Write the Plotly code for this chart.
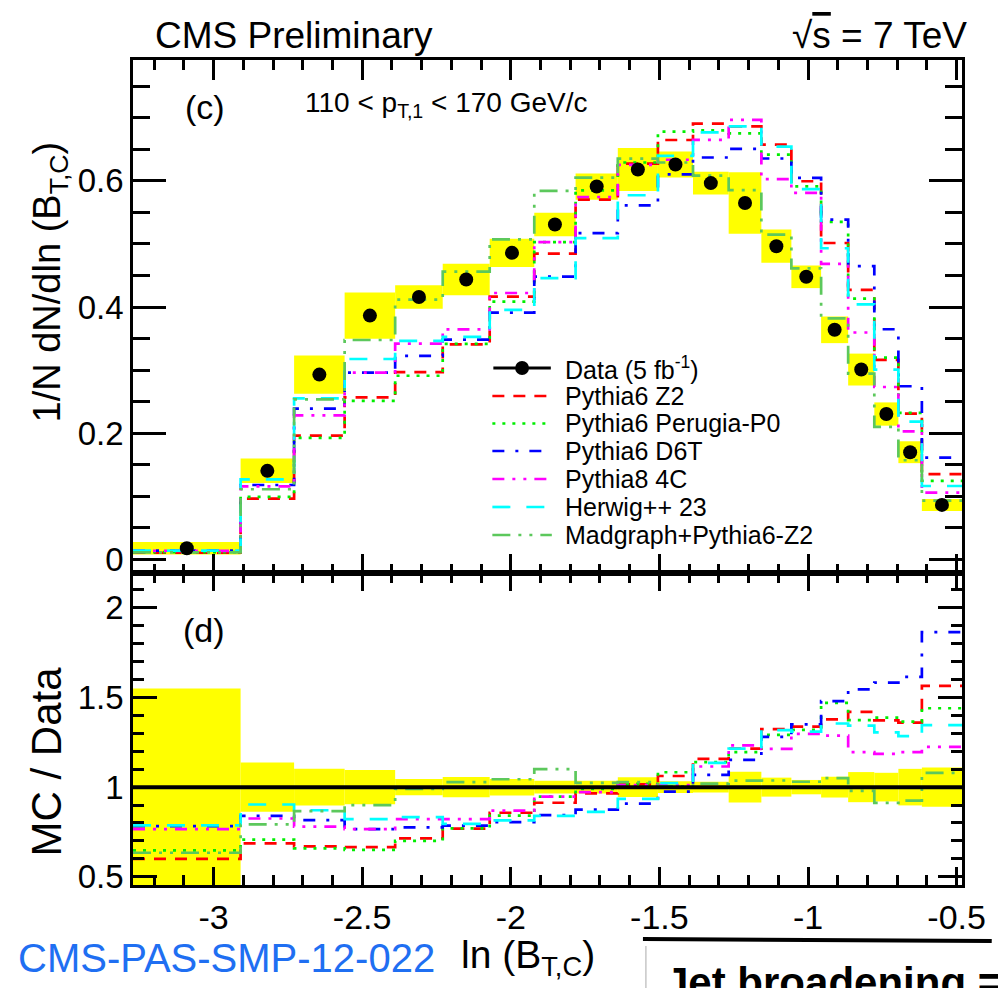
import plotly.graph_objects as go

# ---------------- data ----------------
bin_edges = [-3.271, -2.909, -2.729, -2.559, -2.389, -2.229, -2.071, -1.921, -1.782,
             -1.640, -1.505, -1.387, -1.267, -1.157, -1.056, -0.956, -0.865, -0.777,
             -0.696, -0.617, -0.482]

data_vals = [0.0178, 0.1405, 0.293, 0.3865, 0.416, 0.4437, 0.486, 0.531, 0.591, 0.618,
             0.626, 0.5965, 0.565, 0.4965, 0.448, 0.364, 0.301, 0.2305, 0.170, 0.0865]

sys_rel = [0.55, 0.138, 0.103, 0.095, 0.045, 0.056, 0.046, 0.035, 0.035, 0.055,
           0.033, 0.030, 0.086, 0.053, 0.040, 0.058, 0.084, 0.080, 0.102, 0.110]

ratio_z2 = [0.600, 0.686, 0.670, 0.665, 0.714, 0.768, 0.857, 0.913, 0.965, 1.015,
            1.062, 1.158, 1.215, 1.324, 1.338, 1.378, 1.420, 1.373, 1.360, 1.565]
ratio_p0 = [0.647, 0.707, 0.658, 0.650, 0.700, 0.770, 0.841, 0.947, 0.990, 1.018,
            1.083, 1.140, 1.195, 1.292, 1.320, 1.470, 1.374, 1.388, 1.366, 1.440]
ratio_d6t = [0.782, 0.840, 0.816, 0.766, 0.776, 0.785, 0.805, 0.844, 0.875, 0.908,
             0.975, 1.068, 1.152, 1.280, 1.350, 1.480, 1.545, 1.583, 1.615, 1.865]
ratio_4c = [0.766, 0.825, 0.780, 0.766, 0.822, 0.822, 0.869, 0.947, 0.972, 1.012,
            1.012, 1.115, 1.233, 1.214, 1.297, 1.287, 1.195, 1.186, 1.195, 1.225]
ratio_hw = [0.787, 0.903, 0.871, 0.822, 0.833, 0.795, 0.814, 0.840, 0.862, 0.934,
            1.022, 1.135, 1.215, 1.318, 1.310, 1.355, 1.343, 1.305, 1.285, 1.346]
ratio_mg = [0.634, 0.792, 0.866, 0.900, 0.990, 1.028, 1.044, 1.100, 1.024, 1.028,
            1.005, 1.020, 1.036, 1.037, 1.030, 1.050, 0.979, 0.912, 0.925, 1.080]

mc_names = ["Pythia6 Z2", "Pythia6 Perugia-P0", "Pythia6 D6T", "Pythia8 4C",
            "Herwig++ 23", "Madgraph+Pythia6-Z2"]
mc_ratios = [ratio_z2, ratio_p0, ratio_d6t, ratio_4c, ratio_hw, ratio_mg]
mc_colors = ["#ff0000", "#00ee00", "#0000ff", "#ff00ff", "#00ffff", "#5cc85c"]
mc_dashes = ["12px,9px", "3px,7px", "12px,11px,3px,11px", "12px,8px,3px,8px,3px,8px",
             "18px,16px", "18px,8px,3px,8px,3px,8px"]

x_tick_vals = [-3, -2.5, -2, -1.5, -1, -0.5]
x_tick_text = ["-3", "-2.5", "-2", "-1.5", "-1", "-0.5"]

# ---------------- derived ----------------
centers = [(a + b) / 2 for a, b in zip(bin_edges[:-1], bin_edges[1:])]
widths = [b - a for a, b in zip(bin_edges[:-1], bin_edges[1:])]

FONT = "Liberation Sans, Arial, Helvetica, sans-serif"
W, H = 998, 988
L, R, T, B = 133.3, 28, 60, 103
PW, PH = W - L - R, H - T - B
split = (885 - 573.3) / PH


def px(xp):
    return (xp - L) / PW


def py(yp):
    return (H - B - yp) / PH


fig = go.Figure()

# yellow systematic boxes, top panel
fig.add_trace(go.Bar(
    x=centers, width=widths,
    base=[d * (1 - r) for d, r in zip(data_vals, sys_rel)],
    y=[2 * d * r for d, r in zip(data_vals, sys_rel)],
    marker=dict(color="#ffff00", line=dict(width=0)),
    xaxis="x", yaxis="y", showlegend=False, hoverinfo="skip"))

# MC histograms, top panel
for name, rat, col, dash in zip(mc_names, mc_ratios, mc_colors, mc_dashes):
    vals = [d * r for d, r in zip(data_vals, rat)]
    fig.add_trace(go.Scatter(
        x=bin_edges, y=vals + [vals[-1]], mode="lines", line_shape="hv",
        line=dict(color=col, width=2.7, dash=dash), name=name,
        xaxis="x", yaxis="y", showlegend=False))

# data points
fig.add_trace(go.Scatter(
    x=centers, y=data_vals, mode="markers",
    marker=dict(color="black", size=14), name="Data",
    xaxis="x", yaxis="y", showlegend=False))

# ratio panel band
fig.add_trace(go.Bar(
    x=centers, width=widths,
    base=[1 - r for r in sys_rel], y=[2 * r for r in sys_rel],
    marker=dict(color="#ffff00", line=dict(width=0)),
    xaxis="x2", yaxis="y2", showlegend=False, hoverinfo="skip"))

for name, rat, col, dash in zip(mc_names, mc_ratios, mc_colors, mc_dashes):
    fig.add_trace(go.Scatter(
        x=bin_edges, y=rat + [rat[-1]], mode="lines", line_shape="hv",
        line=dict(color=col, width=2.7, dash=dash), name=name,
        xaxis="x2", yaxis="y2", showlegend=False))

shapes = [dict(type="line", xref="x2", yref="y2", x0=bin_edges[0], x1=bin_edges[-1],
               y0=1, y1=1, line=dict(color="black", width=4), layer="above")]

annotations = []

# manual legend
leg_y = [368, 396, 423.5, 451, 479, 507, 535]
leg_labels = ["Data (5 fb<sup>-1</sup>)"] + mc_names
for i, (yy, lab) in enumerate(zip(leg_y, leg_labels)):
    annotations.append(dict(xref="paper", yref="paper", x=px(567), y=py(yy),
                            xanchor="left", yanchor="middle", text=lab, showarrow=False,
                            font=dict(family=FONT, size=25, color="black")))
    if i == 0:
        shapes.append(dict(type="line", xref="paper", yref="paper", x0=px(497), x1=px(555),
                           y0=py(yy), y1=py(yy), line=dict(color="black", width=3)))
        shapes.append(dict(type="circle", xref="paper", yref="paper",
                           x0=px(519), x1=px(533), y0=py(yy + 7), y1=py(yy - 7),
                           fillcolor="black", line=dict(color="black", width=0)))
    else:
        shapes.append(dict(type="line", xref="paper", yref="paper", x0=px(496), x1=px(556),
                           y0=py(yy), y1=py(yy),
                           line=dict(color=mc_colors[i - 1], width=2.7, dash=mc_dashes[i - 1])))

# texts
annotations += [
    dict(x=px(153), y=py(35), xanchor="left", yanchor="middle", text="CMS Preliminary",
         font=dict(family=FONT, size=37)),
    dict(x=px(977), y=py(35), xanchor="right", yanchor="middle",
         text="√<span style='text-decoration:overline'>s</span> = 7 TeV",
         font=dict(family=FONT, size=37)),
    dict(x=px(184), y=py(107), xanchor="left", yanchor="middle", text="(c)",
         font=dict(family=FONT, size=34)),
    dict(x=px(305), y=py(104), xanchor="left", yanchor="middle",
         text="110 < p<sub>T,1</sub> < 170 GeV/c", font=dict(family=FONT, size=28)),
    dict(x=px(182), y=py(630), xanchor="left", yanchor="middle", text="(d)",
         font=dict(family=FONT, size=34)),
    dict(x=px(50), y=py(282), xanchor="center", yanchor="middle", textangle=-90,
         text="1/N dN/dln (B<sub>T,C</sub>)", font=dict(family=FONT, size=38)),
    dict(x=px(45), y=py(762), xanchor="center", yanchor="middle", textangle=-90,
         text="MC / Data", font=dict(family=FONT, size=42)),
    dict(x=px(602), y=py(958), xanchor="right", yanchor="middle",
         text="ln (B<sub>T,C</sub>)", font=dict(family=FONT, size=39)),
    dict(x=px(15), y=py(958), xanchor="left", yanchor="middle", text="CMS-PAS-SMP-12-022",
         font=dict(family=FONT, size=40, color="#1f6ff2")),
    dict(x=px(668), y=py(957), xanchor="left", yanchor="top", text="<b>Jet broadening =</b>",
         font=dict(family=FONT, size=42)),
]
for a in annotations:
    a.setdefault("xref", "paper")
    a.setdefault("yref", "paper")
    a.setdefault("showarrow", False)
    a["font"].setdefault("color", "black")

shapes += [
    dict(type="line", xref="paper", yref="paper", x0=px(648), x1=px(1000),
         y0=py(939), y1=py(941), line=dict(color="black", width=4)),
    dict(type="line", xref="paper", yref="paper", x0=px(651), x1=px(651),
         y0=py(946), y1=py(990), line=dict(color="#aaaaaa", width=1)),
]

axis_common = dict(showline=True, linecolor="black", linewidth=2.5, mirror="ticks",
                   ticks="inside", tickcolor="black", tickwidth=2.5, showgrid=False,
                   zeroline=False)

fig.update_layout(
    width=W, height=H, margin=dict(l=L, r=R, t=T, b=B, pad=0),
    paper_bgcolor="white", plot_bgcolor="white", barmode="overlay",
    showlegend=False,
    font=dict(family=FONT, color="black"),
    xaxis=dict(domain=[0, 1], anchor="y", range=[bin_edges[0], bin_edges[-1]],
               tickvals=x_tick_vals, ticktext=x_tick_text, showticklabels=False,
               ticklen=20, minor=dict(dtick=0.1, tick0=-3, ticks="inside", ticklen=10,
                                      tickwidth=2.5, tickcolor="black"),
               **axis_common),
    yaxis=dict(domain=[split, 1], anchor="x", range=[-0.0219, 0.7916], dtick=0.2,
               ticklen=33, tickfont=dict(size=33),
               minor=dict(dtick=0.05, ticks="inside", ticklen=17, tickwidth=2.5,
                          tickcolor="black"),
               **axis_common),
    xaxis2=dict(domain=[0, 1], anchor="y2", matches="x", range=[bin_edges[0], bin_edges[-1]],
                tickvals=x_tick_vals, ticktext=x_tick_text, tickfont=dict(size=34),
                ticklen=18, minor=dict(dtick=0.1, tick0=-3, ticks="inside", ticklen=10,
                                       tickwidth=2.5, tickcolor="black"),
                **axis_common),
    yaxis2=dict(domain=[0, split], anchor="x2", range=[0.454, 2.193], dtick=0.5,
                ticklen=24, tickfont=dict(size=33),
                minor=dict(dtick=0.1, ticks="inside", ticklen=11, tickwidth=2.5,
                           tickcolor="black"),
                **axis_common),
    shapes=shapes, annotations=annotations,
)

fig.write_html("out.html")
